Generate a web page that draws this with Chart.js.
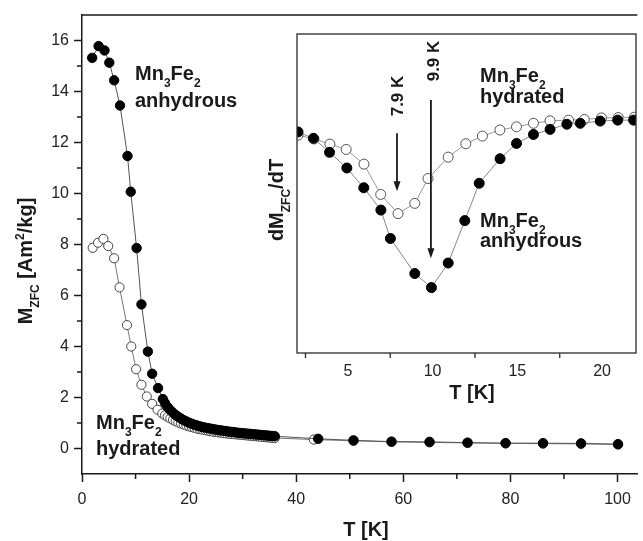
<!DOCTYPE html>
<html>
<head>
<title>Mn3Fe2 ZFC magnetization</title>
<script src="https://cdn.jsdelivr.net/npm/chart.js"></script>
<style>
  body { margin: 0; background: #fff; }
  #wrap { position: relative; width: 643px; height: 541px; overflow: hidden; }
  #main { position: absolute; left: 0; top: 0; }
  #inset { position: absolute; left: 260px; top: 28px; }
</style>
</head>
<body>
<div id="wrap">
  <canvas id="main" width="643" height="541"></canvas>
  <canvas id="inset" width="383" height="400"></canvas>
</div>
<script>
// ---- main plot: M_ZFC [Am2/kg] vs T [K] ----
const tDense = [15.5, 16, 16.5, 17, 17.5, 18, 18.5, 19, 19.5, 20, 20.5, 21, 21.5, 22, 22.5, 23, 23.5, 24,
  24.5, 25, 25.5, 26, 26.5, 27, 27.5, 28, 28.5, 29, 29.5, 30, 30.5, 31, 31.5, 32, 32.5, 33, 33.5, 34,
  34.5, 35, 35.5, 36];

const tAnh = [1.9, 3.1, 4.2, 5.1, 6.0, 7.1, 8.5, 9.1, 10.2, 11.1, 12.3, 13.1, 14.2, 15.1]
  .concat(tDense, [44.1, 50.7, 57.8, 64.9, 72.0, 79.1, 86.1, 93.2, 100.1]);
const mAnh = [15.32, 15.78, 15.61, 15.13, 14.44, 13.45, 11.47, 10.07, 7.86, 5.65, 3.80, 2.93, 2.37, 1.94,
  1.78, 1.62, 1.50, 1.40, 1.31, 1.24, 1.17, 1.11, 1.06, 1.01, 0.97, 0.93, 0.90, 0.87, 0.84, 0.82, 0.80, 0.78,
  0.76, 0.74, 0.72, 0.71, 0.69, 0.68, 0.66, 0.65, 0.64, 0.62, 0.61, 0.60, 0.59, 0.58, 0.57, 0.56, 0.55, 0.54,
  0.53, 0.52, 0.51, 0.50, 0.49, 0.48,
  0.38, 0.32, 0.27, 0.26, 0.23, 0.21, 0.21, 0.20, 0.17];

const tHyd = [2.0, 3.0, 4.0, 4.9, 6.0, 7.0, 8.4, 9.2, 10.1, 11.1, 12.1, 13.1, 14.1, 15.0]
  .concat(tDense, [43.3, 50.7, 57.8, 64.9, 72.0, 79.1, 86.1, 93.2, 100.1]);
const mHyd = [7.87, 8.07, 8.22, 7.94, 7.46, 6.32, 4.84, 4.00, 3.11, 2.50, 2.04, 1.75, 1.52, 1.37,
  1.30, 1.24, 1.18, 1.12, 1.07, 1.02, 0.98, 0.94, 0.90, 0.87, 0.84, 0.81, 0.78, 0.76, 0.74, 0.72, 0.70, 0.68,
  0.66, 0.65, 0.63, 0.62, 0.60, 0.59, 0.58, 0.57, 0.56, 0.55, 0.54, 0.53, 0.52, 0.51, 0.50, 0.49, 0.48, 0.47,
  0.46, 0.45, 0.44, 0.43, 0.42, 0.41,
  0.35, 0.30, 0.26, 0.24, 0.22, 0.20, 0.19, 0.18, 0.16];

const xTicks = [0, 20, 40, 60, 80, 100];
const xMinor = [10, 30, 50, 70, 90];
const yTicks = [0, 2, 4, 6, 8, 10, 12, 14, 16];
const yMinor = [1, 3, 5, 7, 9, 11, 13, 15];

// ---- inset: dM_ZFC/dT (arb. units) vs T [K] ----
const tInAnh = [2.06, 2.97, 3.92, 4.94, 5.94, 6.95, 7.51, 8.95, 9.93, 10.92, 11.9, 12.75, 13.98, 14.95,
  15.95, 16.93, 17.92, 18.71, 19.89, 20.92, 21.86];
const dAnh = [69.3, 67.3, 62.9, 58.0, 51.8, 44.8, 35.9, 24.9, 20.5, 28.2, 41.5, 53.2, 60.9, 65.7,
  68.5, 70.1, 71.7, 72.0, 72.7, 73.0, 73.0];
const tInHyd = [2.06, 3.0, 3.94, 4.9, 5.95, 6.94, 7.96, 8.95, 9.73, 10.92, 11.96, 12.94, 13.97, 14.95,
  15.95, 16.93, 18.02, 18.95, 19.96, 20.95, 21.9];
const dHyd = [68.3, 67.1, 65.5, 63.8, 59.2, 49.7, 43.7, 46.9, 54.7, 61.4, 65.6, 68.0, 69.9, 70.9,
  72.0, 72.8, 73.0, 73.2, 73.7, 73.8, 73.9];
const inTicks = [5, 10, 15, 20];
const inMinor = [2.5, 7.5, 12.5, 17.5];

const FONT = '"Liberation Sans", Arial, Helvetica, sans-serif';
const INK = '#1a1a1a';
const MN3FE2 = [{ t: 'Mn' }, { t: '3', sub: 1 }, { t: 'Fe' }, { t: '2', sub: 1 }];

function pts(xs, ys) {
  return xs.map((x, i) => ({ x: x, y: ys[i] }));
}

// text with sub/superscripts, baseline at (x, y)
function richText(ctx, parts, x, y, size, rotate, center) {
  ctx.save();
  ctx.translate(x, y);
  if (rotate) ctx.rotate(rotate);
  ctx.fillStyle = INK;
  ctx.textBaseline = 'alphabetic';
  ctx.textAlign = 'left';
  const small = size * 0.6;
  let w = 0;
  parts.forEach(p => {
    ctx.font = 'bold ' + (p.sub || p.sup ? small : size) + 'px ' + FONT;
    p.w = ctx.measureText(p.t).width;
    w += p.w;
  });
  let cx = center ? -w / 2 : 0;
  parts.forEach(p => {
    ctx.font = 'bold ' + (p.sub || p.sup ? small : size) + 'px ' + FONT;
    const dy = p.sub ? size * 0.36 : (p.sup ? -size * 0.4 : 0);
    ctx.fillText(p.t, cx, dy);
    cx += p.w;
  });
  ctx.restore();
}

const mainDecor = {
  id: 'mainDecor',
  afterDraw(chart) {
    const ctx = chart.ctx;
    const a = chart.chartArea;
    const xs = chart.scales.x, ys = chart.scales.y;
    ctx.save();
    ctx.strokeStyle = INK;
    ctx.lineWidth = 1.5;
    ctx.beginPath();
    ctx.moveTo(a.left, a.top);
    ctx.lineTo(a.right, a.top);
    yMinor.forEach(v => {
      const py = ys.getPixelForValue(v);
      ctx.moveTo(a.left - 5, py);
      ctx.lineTo(a.left, py);
    });
    xMinor.forEach(v => {
      const px = xs.getPixelForValue(v);
      ctx.moveTo(px, a.bottom);
      ctx.lineTo(px, a.bottom + 5);
    });
    ctx.stroke();
    ctx.restore();

    richText(ctx, MN3FE2, 135, 80, 20);
    richText(ctx, [{ t: 'anhydrous' }], 135, 107, 20);
    richText(ctx, MN3FE2, 96, 429, 20);
    richText(ctx, [{ t: 'hydrated' }], 96, 455, 20);

    richText(ctx, [{ t: 'T [K]' }], 366, 536, 20, 0, true);
    richText(ctx, [{ t: 'M' }, { t: 'ZFC', sub: 1 }, { t: ' [Am' }, { t: '2', sup: 1 }, { t: '/kg]' }],
      32, 261, 20, -Math.PI / 2, true);
  }
};

const insetDecor = {
  id: 'insetDecor',
  beforeDraw(chart) {
    const ctx = chart.ctx, a = chart.chartArea;
    ctx.save();
    ctx.fillStyle = '#fff';
    ctx.fillRect(a.left, a.top, a.right - a.left, a.bottom - a.top);
    ctx.restore();
  },
  afterDraw(chart) {
    const ctx = chart.ctx;
    const a = chart.chartArea;
    const xs = chart.scales.x, ys = chart.scales.y;
    ctx.save();
    ctx.strokeStyle = '#2a2a2a';
    ctx.lineWidth = 1.3;
    ctx.strokeRect(a.left, a.top, a.right - a.left, a.bottom - a.top);
    ctx.beginPath();
    inMinor.forEach(v => {
      const px = xs.getPixelForValue(v);
      ctx.moveTo(px, a.bottom);
      ctx.lineTo(px, a.bottom + 5);
    });
    ctx.stroke();

    // arrows marking the minima
    function arrow(t, from, to) {
      const px = xs.getPixelForValue(t);
      const y1 = ys.getPixelForValue(from), y2 = ys.getPixelForValue(to);
      ctx.strokeStyle = INK;
      ctx.fillStyle = INK;
      ctx.lineWidth = 1.8;
      ctx.beginPath();
      ctx.moveTo(px, y1);
      ctx.lineTo(px, y2 - 8);
      ctx.stroke();
      ctx.beginPath();
      ctx.moveTo(px - 3.5, y2 - 10);
      ctx.lineTo(px + 3.5, y2 - 10);
      ctx.lineTo(px, y2);
      ctx.closePath();
      ctx.fill();
    }
    arrow(7.9, 68.9, 50.7);
    arrow(9.9, 79.3, 29.7);
    ctx.restore();

    const ox = 260, oy = 28;
    richText(ctx, [{ t: '7.9 K' }], 397 - ox + 6, 96 - oy, 17, -Math.PI / 2, true);
    richText(ctx, [{ t: '9.9 K' }], 433 - ox + 6, 61 - oy, 17, -Math.PI / 2, true);
    richText(ctx, MN3FE2, 480 - ox, 82 - oy, 20);
    richText(ctx, [{ t: 'hydrated' }], 480 - ox, 103 - oy, 20);
    richText(ctx, MN3FE2, 480 - ox, 227 - oy, 20);
    richText(ctx, [{ t: 'anhydrous' }], 480 - ox, 247 - oy, 20);
    richText(ctx, [{ t: 'T [K]' }], 472 - ox, 399 - oy, 20, 0, true);
    richText(ctx, [{ t: 'dM' }, { t: 'ZFC', sub: 1 }, { t: '/dT' }], 283 - ox, 200 - oy, 20, -Math.PI / 2, true);
  }
};

const tickFont = { family: FONT, size: 16 };

new Chart(document.getElementById('main'), {
  type: 'line',
  data: {
    datasets: [{
      label: 'anhydrous',
      data: pts(tAnh, mAnh),
      borderColor: '#555',
      borderWidth: 1,
      pointRadius: 4.7,
      pointBackgroundColor: '#000',
      pointBorderColor: '#000',
      pointBorderWidth: 1,
      order: 0
    }, {
      label: 'hydrated',
      data: pts(tHyd, mHyd),
      borderColor: '#777',
      borderWidth: 1,
      pointRadius: 4.6,
      pointBackgroundColor: '#fff',
      pointBorderColor: '#444',
      pointBorderWidth: 1,
      order: 1
    }]
  },
  options: {
    responsive: false,
    animation: false,
    layout: { padding: { top: 15, left: 0, right: 0, bottom: 0 } },
    plugins: { legend: { display: false }, tooltip: { enabled: false } },
    scales: {
      x: {
        type: 'linear',
        min: 0,
        max: 103.7,
        afterBuildTicks: s => { s.ticks = xTicks.map(v => ({ value: v })); },
        afterFit: s => { s.height = 67; },
        grid: { drawOnChartArea: false, tickLength: 8, tickColor: INK, tickWidth: 1.5 },
        border: { display: true, color: INK, width: 1.5 },
        ticks: { font: tickFont, color: '#222', padding: 8, maxRotation: 0, autoSkip: false }
      },
      y: {
        min: -1,
        max: 17,
        afterBuildTicks: s => { s.ticks = yTicks.map(v => ({ value: v })); },
        afterFit: s => { s.width = 82; },
        grid: { drawOnChartArea: false, tickLength: 8, tickColor: INK, tickWidth: 1.5 },
        border: { display: true, color: INK, width: 1.5 },
        ticks: { font: tickFont, color: '#222', padding: 5 }
      }
    }
  },
  plugins: [mainDecor]
});

new Chart(document.getElementById('inset'), {
  type: 'line',
  data: {
    datasets: [{
      label: 'anhydrous',
      data: pts(tInAnh, dAnh),
      borderColor: '#888',
      borderWidth: 1,
      pointRadius: 5,
      pointBackgroundColor: '#000',
      pointBorderColor: '#000',
      pointBorderWidth: 1,
      order: 0
    }, {
      label: 'hydrated',
      data: pts(tInHyd, dHyd),
      borderColor: '#999',
      borderWidth: 1,
      pointRadius: 5,
      pointBackgroundColor: '#fff',
      pointBorderColor: '#555',
      pointBorderWidth: 1,
      order: 1
    }]
  },
  options: {
    responsive: false,
    animation: false,
    layout: { padding: { top: 6, left: 0, right: 7, bottom: 0 } },
    plugins: { legend: { display: false }, tooltip: { enabled: false } },
    scales: {
      x: {
        type: 'linear',
        min: 2,
        max: 22,
        afterBuildTicks: s => { s.ticks = inTicks.map(v => ({ value: v })); },
        afterFit: s => { s.height = 75; },
        grid: { display: false, drawTicks: false },
        border: { display: false },
        ticks: { font: tickFont, color: '#222', padding: 9, maxRotation: 0, autoSkip: false }
      },
      y: {
        min: 0,
        max: 100,
        afterFit: s => { s.width = 37; },
        grid: { display: false, drawTicks: false },
        border: { display: false },
        ticks: { display: false }
      }
    }
  },
  plugins: [insetDecor]
});
</script>
</body>
</html>
